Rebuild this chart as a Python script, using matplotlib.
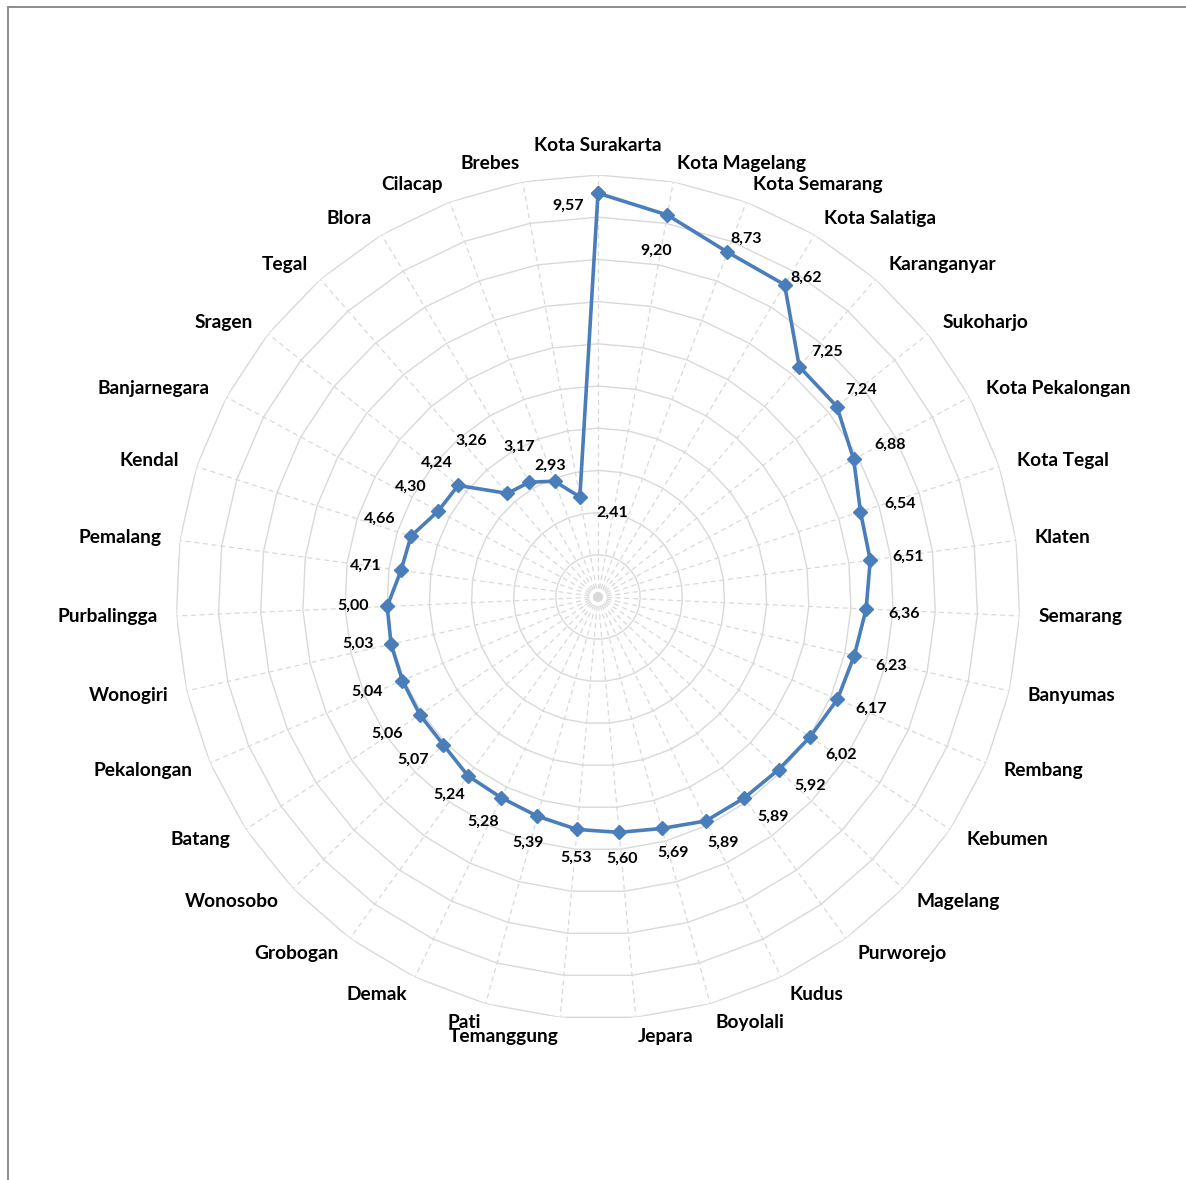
import matplotlib
matplotlib.use('Agg')

import numpy as np
import matplotlib.pyplot as plt
from matplotlib.lines import Line2D

# --- data (clockwise from top) ---
regions = ['Kota Surakarta', 'Kota Magelang', 'Kota Semarang', 'Kota Salatiga',
           'Karanganyar', 'Sukoharjo', 'Kota Pekalongan', 'Kota Tegal', 'Klaten',
           'Semarang', 'Banyumas', 'Rembang', 'Kebumen', 'Magelang', 'Purworejo',
           'Kudus', 'Boyolali', 'Jepara', 'Temanggung', 'Pati', 'Demak',
           'Grobogan', 'Wonosobo', 'Batang', 'Pekalongan', 'Wonogiri',
           'Purbalingga', 'Pemalang', 'Kendal', 'Banjarnegara', 'Sragen', 'Tegal',
           'Blora', 'Cilacap', 'Brebes']
values = [9.57, 9.20, 8.73, 8.62, 7.25, 7.24, 6.88, 6.54, 6.51, 6.36, 6.23,
          6.17, 6.02, 5.92, 5.89, 5.89, 5.69, 5.60, 5.53, 5.39, 5.28, 5.24,
          5.07, 5.06, 5.04, 5.03, 5.00, 4.71, 4.66, 4.30, 4.24, 3.26, 3.17,
          2.93, 2.41]
ring_levels = list(range(1, 11))

# label offsets in pixels (dx right, dy down), Excel put them a bit randomly
lbl_off = [(-30, 13), (-11, 36), (19, -13), (22, -7), (28, -15), (24, -17),
           (36, -15), (40, -8), (38, -3), (38, 5), (37, 10), (34, 9), (31, 18),
           (32, 16), (29, 19), (17, 22), (11, 24), (3, 26), (-1, 28), (-9, 27),
           (-18, 24), (-19, 19), (-30, 15), (-33, 19), (-35, 11), (-33, 0),
           (-34, -1), (-35, -5), (-31, -17), (-28, -24), (-21, -23), (-36, -53),
           (-10, -35), (-4, -15), (32, 16)]

FONT = ['Lato', 'DejaVu Sans']
BLUE = '#4A7EBB'
GRID = '#D9D9D9'

fig = plt.figure(figsize=(11.86, 11.80), dpi=100)
ax = fig.add_axes([176 / 1186, 161 / 1180, 844 / 1186, 844 / 1180], polar=True)
ax.set_theta_zero_location('N')
ax.set_theta_direction(-1)

n = len(regions)
theta = np.arange(n) * 2 * np.pi / n
theta_c = np.append(theta, theta[0])

# polygon rings + dashed spokes
for lv in ring_levels:
    ax.plot(theta_c, [lv] * (n + 1), color=GRID, lw=1.0, zorder=1)
for t in theta:
    ax.plot([t, t], [0, ring_levels[-1]], color=GRID, lw=0.9,
            ls=(0, (4, 3)), zorder=1)

vals_c = values + [values[0]]
ax.plot(theta_c, vals_c, color=BLUE, lw=2.6, marker='D', ms=7,
        mec=BLUE, mfc=BLUE, zorder=3)

for i, v in enumerate(values):
    dx, dy = lbl_off[i]
    ax.annotate(f'{v:.2f}'.replace('.', ','), (theta[i], v),
                xytext=(dx, -dy), textcoords='offset pixels',
                ha='center', va='center', fontsize=11.5, fontweight='bold',
                family=FONT, color='black', zorder=4)

for i, name in enumerate(regions):
    deg = np.degrees(theta[i])
    if np.isclose(deg, 0):
        ha, va, r = 'center', 'bottom', 10.5
    elif deg < 180:
        ha, va, r = 'left', 'center', 10.45
    else:
        ha, va, r = 'right', 'center', 10.45
    ax.text(theta[i], r, name, ha=ha, va=va, fontsize=13.8,
            fontweight='bold', family=FONT, color='black')

ax.set_ylim(0, 10)
ax.set_xticks([])
ax.set_yticks([])
ax.grid(False)
ax.spines['polar'].set_visible(False)
ax.patch.set_alpha(0)

# chart border (only top and left are visible in the crop)
fig.add_artist(Line2D([8 / 1186, 8 / 1186], [0, 1 - 7 / 1180],
                      transform=fig.transFigure, color='#8C8C8C', lw=1.4))
fig.add_artist(Line2D([8 / 1186, 1], [1 - 7 / 1180, 1 - 7 / 1180],
                      transform=fig.transFigure, color='#8C8C8C', lw=1.4))

fig.savefig('out.png', dpi=100)
